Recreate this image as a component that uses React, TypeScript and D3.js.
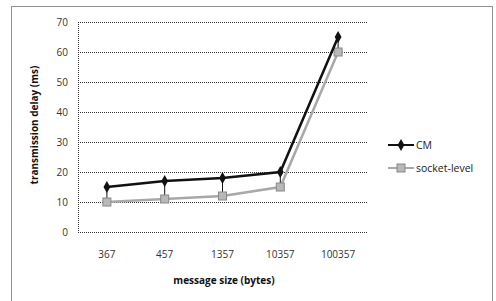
import * as d3 from 'd3';
import { useEffect, useRef } from 'react';

const categories = ['367', '457', '1357', '10357', '100357'];
const cmValues = [15, 17, 18, 20, 65];
const socketValues = [10, 11, 12, 15, 60];
const yTicks = [0, 10, 20, 30, 40, 50, 60, 70];

export default function App() {
  const ref = useRef<SVGSVGElement>(null);

  useEffect(() => {
    const svg = d3.select(ref.current);
    svg.selectAll('*').remove();

    const font = '"Open Sans", "DejaVu Sans", sans-serif';

    // outer chart frame (dotted, runs off the bottom)
    svg
      .append('rect')
      .attr('x', 11.5)
      .attr('y', 6.5)
      .attr('width', 481)
      .attr('height', 310)
      .attr('fill', 'none')
      .attr('stroke', '#222')
      .attr('stroke-width', 1)
      .attr('stroke-dasharray', '1,1');

    const x = d3.scaleBand().domain(categories).range([78, 367]);
    const y = d3.scaleLinear().domain([0, 70]).range([232, 22]);

    /* ---------- grid ---------- */
    svg
      .selectAll('.grid')
      .data(yTicks)
      .enter()
      .append('line')
      .attr('x1', 78)
      .attr('x2', 367)
      .attr('y1', d => Math.round(y(d)) + 0.5)
      .attr('y2', d => Math.round(y(d)) + 0.5)
      .attr('stroke', '#333')
      .attr('stroke-width', 1)
      .attr('stroke-dasharray', '1,1');

    svg
      .append('line')
      .attr('x1', 78.5)
      .attr('x2', 78.5)
      .attr('y1', 22)
      .attr('y2', 232)
      .attr('stroke', '#333')
      .attr('stroke-dasharray', '1,1');

    /* ---------- tick labels ---------- */
    svg
      .selectAll('.ytick')
      .data(yTicks)
      .enter()
      .append('text')
      .attr('x', 68)
      .attr('y', d => y(d) + 3.5)
      .attr('text-anchor', 'end')
      .attr('font-family', font)
      .attr('font-size', 10)
      .attr('fill', '#333')
      .text(d => d);

    svg
      .selectAll('.xtick')
      .data(categories)
      .enter()
      .append('text')
      .attr('x', d => (x(d) as number) + x.bandwidth() / 2)
      .attr('y', 258)
      .attr('text-anchor', 'middle')
      .attr('font-family', font)
      .attr('font-size', 10)
      .attr('fill', '#333')
      .text(d => d);

    /* ---------- axis titles ---------- */
    svg
      .append('text')
      .attr('x', 224)
      .attr('y', 284)
      .attr('text-anchor', 'middle')
      .attr('font-family', font)
      .attr('font-size', 10)
      .attr('font-weight', 'bold')
      .attr('fill', '#111')
      .text('message size (bytes)');

    svg
      .append('text')
      .attr('transform', 'translate(38,125) rotate(-90)')
      .attr('text-anchor', 'middle')
      .attr('font-family', font)
      .attr('font-size', 10)
      .attr('font-weight', 'bold')
      .attr('fill', '#111')
      .text('transmission delay (ms)');

    const cx = (i: number) => (x(categories[i]) as number) + x.bandwidth() / 2;

    /* ---------- high-low lines ---------- */
    svg
      .selectAll('.hilo')
      .data(categories)
      .enter()
      .append('line')
      .attr('x1', (_, i) => cx(i))
      .attr('x2', (_, i) => cx(i))
      .attr('y1', (_, i) => y(cmValues[i]))
      .attr('y2', (_, i) => y(socketValues[i]))
      .attr('stroke', '#111')
      .attr('stroke-width', 1);

    const line = d3
      .line<number>()
      .x((_, i) => cx(i))
      .y(d => y(d));

    /* ---------- socket-level series ---------- */
    svg
      .append('path')
      .attr('d', line(socketValues))
      .attr('fill', 'none')
      .attr('stroke', '#a8a8a8')
      .attr('stroke-width', 2.5);

    svg
      .selectAll('.sock')
      .data(socketValues)
      .enter()
      .append('rect')
      .attr('x', (_, i) => cx(i) - 4)
      .attr('y', d => y(d) - 4)
      .attr('width', 8)
      .attr('height', 8)
      .attr('fill', '#b8b8b8')
      .attr('stroke', '#888')
      .attr('stroke-width', 1);

    /* ---------- CM series ---------- */
    svg
      .append('path')
      .attr('d', line(cmValues))
      .attr('fill', 'none')
      .attr('stroke', '#111')
      .attr('stroke-width', 2.5);

    const diamond = d3.symbol().type(d3.symbolDiamond).size(40);
    svg
      .selectAll('.cm')
      .data(cmValues)
      .enter()
      .append('path')
      .attr('d', diamond)
      .attr('transform', (d, i) => `translate(${cx(i)},${y(d)})`)
      .attr('fill', '#111');

    /* ---------- legend ---------- */
    const legend = [
      { name: 'CM', color: '#111', marker: 'diamond', yPos: 145 },
      { name: 'socket-level', color: '#a8a8a8', marker: 'square', yPos: 168 },
    ];
    legend.forEach(l => {
      svg
        .append('line')
        .attr('x1', 388)
        .attr('x2', 414)
        .attr('y1', l.yPos)
        .attr('y2', l.yPos)
        .attr('stroke', l.color)
        .attr('stroke-width', 2);
      if (l.marker === 'diamond') {
        svg
          .append('path')
          .attr('d', diamond)
          .attr('transform', `translate(401,${l.yPos})`)
          .attr('fill', '#111');
      } else {
        svg
          .append('rect')
          .attr('x', 397)
          .attr('y', l.yPos - 4)
          .attr('width', 8)
          .attr('height', 8)
          .attr('fill', '#b8b8b8')
          .attr('stroke', '#888');
      }
      svg
        .append('text')
        .attr('x', 416)
        .attr('y', l.yPos + 4)
        .attr('font-family', font)
        .attr('font-size', 10.5)
        .attr('fill', '#222')
        .text(l.name);
    });
  }, []);

  return (
    <svg
      ref={ref}
      width={496}
      height={301}
      style={{ position: 'absolute', left: 0, top: 0, background: '#fff' }}
    />
  );
}
